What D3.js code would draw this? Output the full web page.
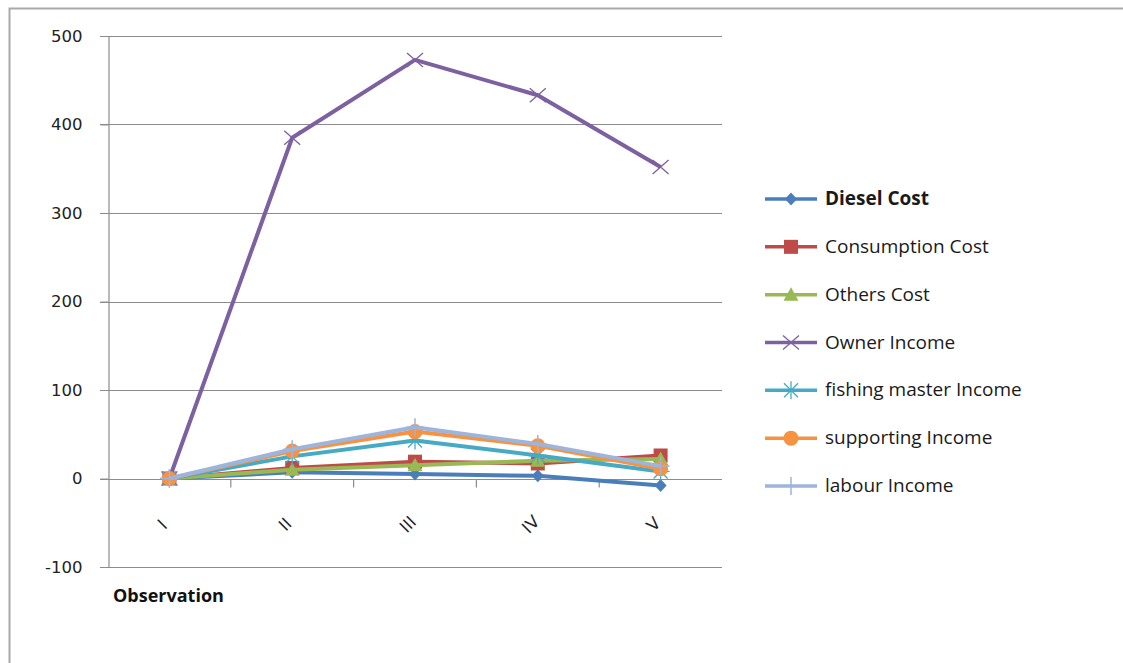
<!DOCTYPE html>
<html>
<head>
<meta charset="utf-8">
<script src="https://cdn.jsdelivr.net/npm/d3@7"></script>
<style>
  body { margin: 0; background: #fff; }
  svg { display: block; font-family: "DejaVu Sans", Verdana, sans-serif; }
  .leg { font-family: "Open Sans", "Liberation Sans", sans-serif; font-size: 19px; fill: #1a1a1a; }
</style>
</head>
<body>
<svg id="chart" width="1123" height="663"></svg>
<script>
// data
var observations = ["I", "II", "III", "IV", "V"];
var seriesNames = ["Diesel Cost", "Consumption Cost", "Others Cost", "Owner Income",
                   "fishing master Income", "supporting Income", "labour Income"];
var dieselCost      = [0, 7, 5, 3, -8];
var consumptionCost = [0, 12, 19, 17, 26];
var othersCost      = [0, 10, 15, 20, 22];
var ownerIncome     = [0, 385, 473, 433, 352];
var fishingIncome   = [0, 25, 43, 26, 8];
var supportIncome   = [0, 31, 53, 37, 11];
var labourIncome    = [0, 33, 58, 39, 14];
var yTicks = [-100, 0, 100, 200, 300, 400, 500];

var allSeries = [dieselCost, consumptionCost, othersCost, ownerIncome, fishingIncome, supportIncome, labourIncome];
var colors = ["#4a7ebb", "#be4b48", "#98b954", "#7d60a0", "#46aac5", "#f69240", "#9db4dc"];
var markers = ["diamond", "square", "triangle", "x", "star", "circle", "plus"];

var svg = d3.select("#chart");
svg.append("rect").attr("width", 1123).attr("height", 663).attr("fill", "#fff");

// outer frame
svg.append("path").attr("d", "M9.5,663 V8.5 H1123")
  .attr("fill", "none").attr("stroke", "#a9a9a9").attr("stroke-width", 2);

var x = d3.scaleBand().domain(observations).range([108, 722]);
var y = d3.scaleLinear().domain([-100, 500]).range([567, 36]);

// gridlines
svg.append("g").selectAll("line").data(yTicks).enter().append("line")
  .attr("x1", 100).attr("x2", 722)
  .attr("y1", function(d) { return Math.round(y(d)) + 0.5; })
  .attr("y2", function(d) { return Math.round(y(d)) + 0.5; })
  .attr("stroke", "#8c8c8c").attr("stroke-width", 1.2);

// y axis
var yAxis = svg.append("g").attr("transform", "translate(108.5,0)")
  .call(d3.axisLeft(y).tickValues(yTicks).tickSize(8).tickPadding(18)
    .tickFormat(function(d) { return String(d); }));
yAxis.select(".domain").attr("stroke", "#8c8c8c").attr("stroke-width", 1.2);
yAxis.selectAll(".tick line").attr("stroke", "#8c8c8c");
yAxis.selectAll("text").attr("font-size", 16.5).attr("fill", "#222")
  .attr("font-family", "DejaVu Sans, sans-serif");

// x axis at zero
var xAxis = svg.append("g").attr("transform", "translate(0," + (Math.round(y(0)) + 0.5) + ")");
var bounds = observations.slice(1).map(function(d) { return x(d); });
xAxis.selectAll(".bnd").data(bounds).enter().append("line")
  .attr("x1", function(d) { return d; }).attr("x2", function(d) { return d; })
  .attr("y1", 0).attr("y2", 8).attr("stroke", "#8c8c8c").attr("stroke-width", 1.2);
svg.append("line").attr("x1", 108).attr("x2", 722)
  .attr("y1", Math.round(y(0)) + 0.5).attr("y2", Math.round(y(0)) + 0.5)
  .attr("stroke", "#8c8c8c").attr("stroke-width", 1.2);

// rotated category labels
svg.append("g").selectAll("text").data(observations).enter().append("text")
  .attr("transform", function(d) {
    return "translate(" + (x(d) + x.bandwidth() / 2 - 3) + "," + (y(0) + 50) + ") rotate(-45)";
  })
  .attr("text-anchor", "middle").attr("font-size", 17).attr("fill", "#222")
  .text(function(d) { return d; });

// x axis title
svg.append("text").attr("x", 113).attr("y", 602)
  .attr("font-family", "Open Sans, sans-serif").attr("font-weight", "bold")
  .attr("font-size", 18).attr("fill", "#111").text("Observation");

function drawMarker(g, type, color, cx, cy) {
  var s = g.append("g").attr("transform", "translate(" + cx + "," + cy + ")");
  if (type === "diamond") {
    s.append("path").attr("d", "M0,-6.5L6,0L0,6.5L-6,0Z").attr("fill", color);
  } else if (type === "square") {
    s.append("rect").attr("x", -7).attr("y", -7).attr("width", 14).attr("height", 14).attr("fill", color);
  } else if (type === "triangle") {
    s.append("path").attr("d", "M0,-7.5L7.5,6L-7.5,6Z").attr("fill", color);
  } else if (type === "circle") {
    s.append("circle").attr("r", 7.5).attr("fill", color);
  } else if (type === "x") {
    s.append("path").attr("d", "M-8,-7L8,7M-8,7L8,-7")
      .attr("stroke", color).attr("stroke-width", 1.3).attr("fill", "none");
  } else if (type === "star") {
    s.append("path").attr("d", "M-7,-7L7,7M-7,7L7,-7M0,-9V9M-9,0H9")
      .attr("stroke", color).attr("stroke-width", 1.3).attr("fill", "none");
  } else if (type === "plus") {
    s.append("path").attr("d", "M0,-9V9M-9,0H9")
      .attr("stroke", color).attr("stroke-width", 1.5).attr("fill", "none");
  }
}

// series lines
var line = d3.line()
  .x(function(d, i) { return x(observations[i]) + x.bandwidth() / 2; })
  .y(function(d) { return y(d); });

allSeries.forEach(function(vals, k) {
  var g = svg.append("g");
  g.append("path").datum(vals).attr("d", line)
    .attr("fill", "none").attr("stroke", colors[k]).attr("stroke-width", 4)
    .attr("stroke-linejoin", "round");
  vals.forEach(function(v, i) {
    drawMarker(g, markers[k], colors[k], x(observations[i]) + x.bandwidth() / 2, y(v));
  });
});

// legend
var legY = d3.scaleLinear().domain([0, seriesNames.length - 1]).range([199, 486]);
seriesNames.forEach(function(name, k) {
  var g = svg.append("g");
  var cy = legY(k);
  g.append("line").attr("x1", 765).attr("x2", 817).attr("y1", cy).attr("y2", cy)
    .attr("stroke", colors[k]).attr("stroke-width", 3.5);
  drawMarker(g, markers[k], colors[k], 791, cy);
  g.append("text").attr("class", "leg").attr("x", 825).attr("y", cy + 6)
    .attr("font-weight", k === 0 ? "bold" : "normal").text(name);
});
</script>
</body>
</html>
